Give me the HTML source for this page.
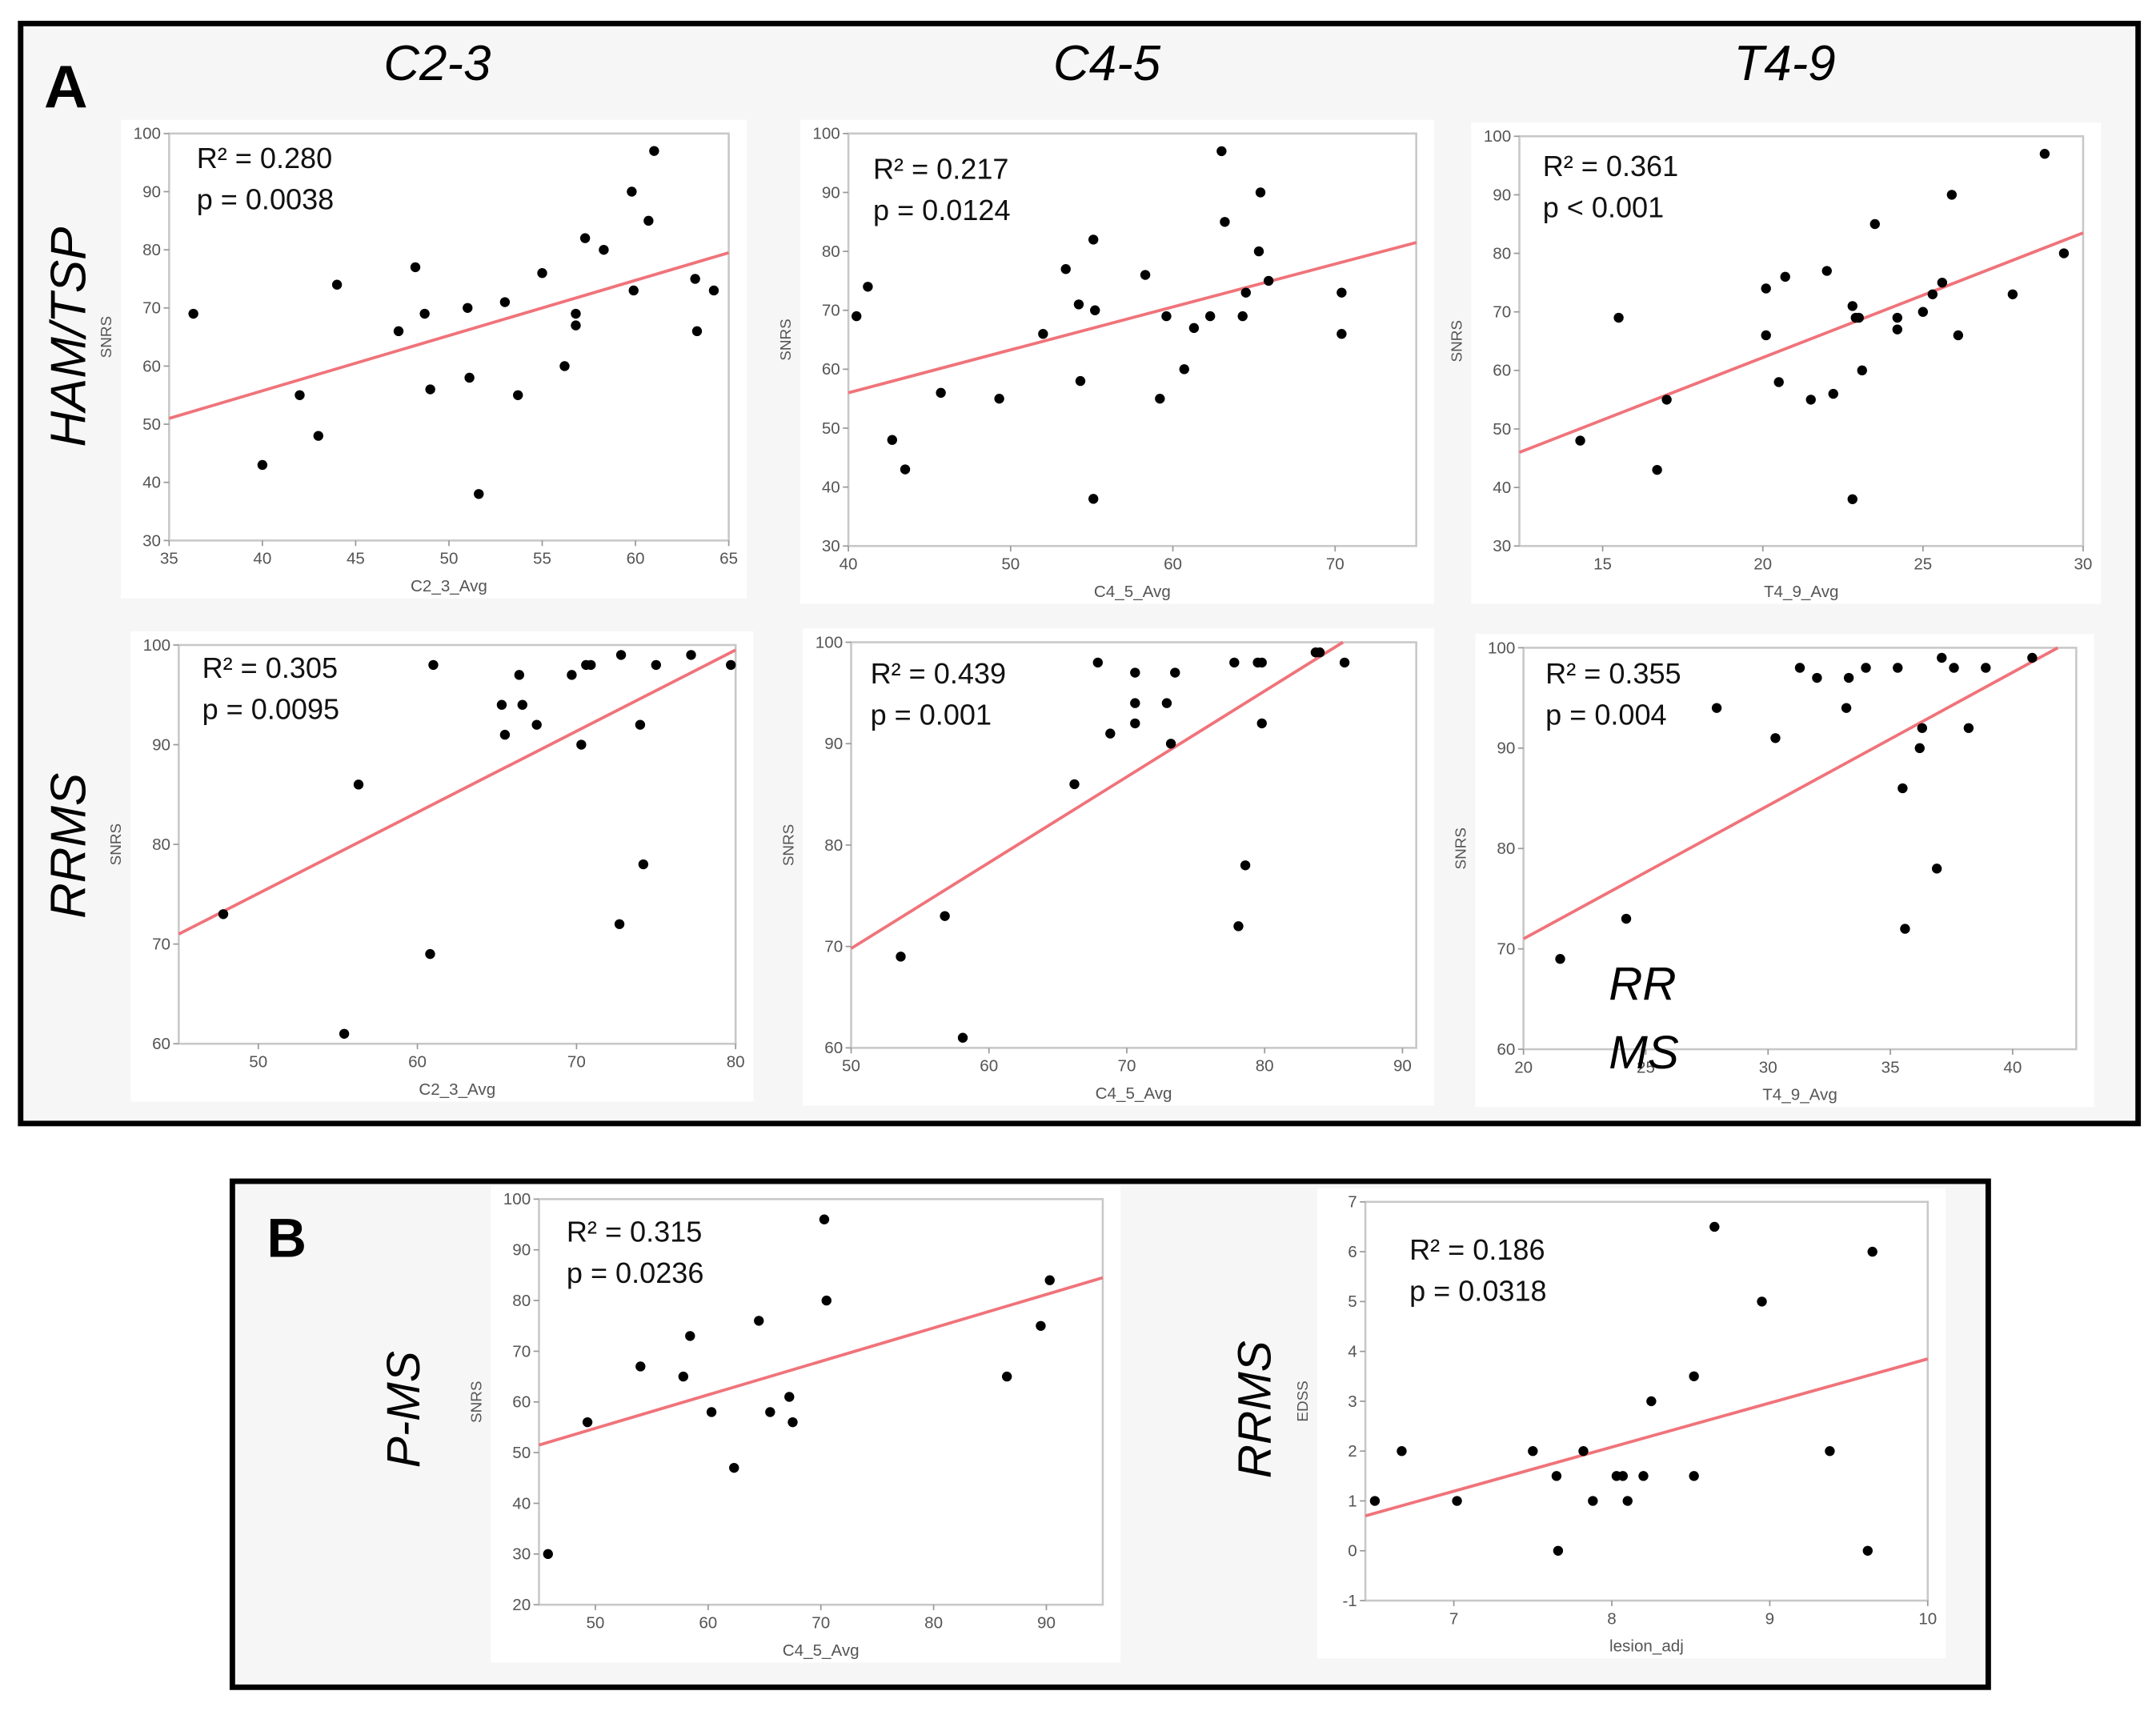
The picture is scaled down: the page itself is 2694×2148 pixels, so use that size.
<!DOCTYPE html>
<html><head><meta charset="utf-8">
<style>
html,body{margin:0;padding:0;background:#fff;}
svg{display:block;}
text{font-family:"Liberation Sans",sans-serif;}
</style></head>
<body>
<svg id="fig" width="2694" height="2148" viewBox="0 0 1568 1250" xmlns="http://www.w3.org/2000/svg">
<rect x="0" y="0" width="1568" height="1250" fill="#fff"/>
<rect x="15" y="17" width="1540" height="800" fill="#f6f6f6" stroke="#000" stroke-width="4"/>
<rect x="169" y="859" width="1277" height="368" fill="#f6f6f6" stroke="#000" stroke-width="4"/>
<text x="32" y="78" font-size="44" font-weight="bold">A</text>
<text x="194" y="914" font-size="40" font-weight="bold">B</text>
<text x="318" y="58" font-size="36" font-style="italic" text-anchor="middle">C2-3</text>
<text x="805" y="58" font-size="36" font-style="italic" text-anchor="middle">C4-5</text>
<text x="1298" y="58" font-size="36" font-style="italic" text-anchor="middle">T4-9</text>
<text transform="translate(62,245) rotate(-90)" font-size="36" font-style="italic" text-anchor="middle">HAM/TSP</text>
<text transform="translate(62,615) rotate(-90)" font-size="36" font-style="italic" text-anchor="middle">RRMS</text>
<text transform="translate(305,1025) rotate(-90)" font-size="34" font-style="italic" text-anchor="middle">P-MS</text>
<text transform="translate(924,1025) rotate(-90)" font-size="34" font-style="italic" text-anchor="middle">RRMS</text>
<g id="plots"></g>
<text x="1170" y="727" font-size="34" font-style="italic">RR</text>
<text x="1170" y="777" font-size="34" font-style="italic">MS</text>
</svg>
<script>
// Panel 1: C2-3 HAM/TSP
const p1x=[36.3,40,42,43,44,47.3,48.2,48.7,49,51,51.1,51.6,53,53.7,55,56.2,56.8,56.8,57.3,58.3,59.8,59.9,60.7,61,63.2,63.3,64.2];
const p1y=[69,43,55,48,74,66,77,69,56,70,58,38,71,55,76,60,67,69,82,80,90,73,85,97,75,66,73];
const p1fit=[51,79.5];
// Panel 2: C4-5 HAM/TSP
const p2x=[40.5,41.2,42.7,43.5,45.7,49.3,52,53.4,54.2,54.3,55.1,55.2,55.1,58.3,59.2,59.6,60.7,61.3,62.3,63,63.2,64.3,64.5,65.3,65.4,65.9,70.4,70.4];
const p2y=[69,74,48,43,56,55,66,77,71,58,82,70,38,76,55,69,60,67,69,97,85,69,73,80,90,75,73,66];
const p2fit=[56,81.5];
// Panel 3: T4-9 HAM/TSP
const p3x=[14.3,15.5,16.7,17,20.1,20.1,20.5,20.7,21.5,22,22.2,22.8,22.8,22.9,23,23.1,23.5,24.2,24.2,25,25.3,25.6,25.9,26.1,27.8,28.8,29.4];
const p3y=[48,69,43,55,74,66,58,76,55,77,56,38,71,69,69,60,85,67,69,70,73,75,90,66,73,97,80];
const p3fit=[46,83.5];
// Panel 4: C2-3 RRMS
const p4x=[47.8,55.4,56.3,60.8,61,65.3,65.5,66.4,66.6,67.5,69.7,70.3,70.6,70.9,72.7,72.8,74,74.2,75,77.2,79.7];
const p4y=[73,61,86,69,98,94,91,97,94,92,97,90,98,98,72,99,92,78,98,99,98];
const p4fit=[71,99.5];
// Panel 5: C4-5 RRMS
const p5x=[53.6,56.8,58.1,66.2,67.9,68.8,70.6,70.6,70.6,72.9,73.2,73.5,77.8,78.1,78.6,79.5,79.8,79.8,83.7,84,85.8];
const p5y=[69,73,61,86,98,91,97,94,92,94,90,97,98,72,78,98,98,92,99,99,98];
const p5fit=[69.8,104.5];
// Panel 6: T4-9 RRMS
const p6x=[21.5,24.2,27.9,30.3,31.3,32,33.2,33.3,34,35.3,35.5,35.6,36.9,36.2,36.3,37.1,37.6,38.2,38.9,40.8];
const p6y=[69,73,94,91,98,97,94,97,98,98,86,72,78,90,92,99,98,92,98,99];
const p6fit=[71,101];
// Panel 7: B P-MS C4-5
const p7x=[45.8,49.3,54,57.8,58.4,60.3,62.3,64.5,65.5,67.2,67.5,70.3,70.5,86.5,89.5,90.3];
const p7y=[30,56,67,65,73,58,47,76,58,61,56,96,80,65,75,84];
const p7fit=[51.5,84.5];
// Panel 8: B RRMS lesion
const p8x=[6.5,6.67,7.02,7.5,7.65,7.66,7.82,7.88,8.03,8.07,8.1,8.2,8.25,8.52,8.52,8.65,8.95,9.38,9.62,9.65];
const p8y=[1,2,1,2,1.5,0,2,1,1.5,1.5,1,1.5,3,3.5,1.5,6.5,5,2,0,6];
const p8fit=[0.7,3.85];

const xt1=["35","40","45","50","55","60","65"],xt2=["40","50","60","70"],xt3=["15","20","25","30"];
const xt4=["50","60","70","80"],xt5=["50","60","70","80","90"],xt6=["20","25","30","35","40"];
const xt7=["50","60","70","80","90"],xt8=["7","8","9","10"];
const ytA=["30","40","50","60","70","80","90","100"],ytR=["60","70","80","90","100"];
const ytP=["20","30","40","50","60","70","80","90","100"],ytE=["-1","0","1","2","3","4","5","6","7"];

const NS="http://www.w3.org/2000/svg";
const root=document.getElementById('plots');
function mk(tag,attrs,parent){const e=document.createElementNS(NS,tag);for(const k in attrs)e.setAttribute(k,attrs[k]);parent.appendChild(e);return e;}

// cfg: plot box, domain
const panels=[
 {id:'c2-3-ham',xs:p1x,ys:p1y,fit:p1fit,px:[123,530],py:[97,393],dx:[35,65],dy:[30,100],xt:xt1,yt:ytA,xl:'C2_3_Avg',yl:'SNRS',r2:'R² = 0.280',pv:'p = 0.0038',tx:143,ty:122},
 {id:'c4-5-ham',xs:p2x,ys:p2y,fit:p2fit,px:[617,1030],py:[97,397],dx:[40,75],dy:[30,100],xt:xt2,yt:ytA,xl:'C4_5_Avg',yl:'SNRS',r2:'R² = 0.217',pv:'p = 0.0124',tx:635,ty:130},
 {id:'t4-9-ham',xs:p3x,ys:p3y,fit:p3fit,px:[1105,1515],py:[99,397],dx:[12.4,30],dy:[30,100],xt:xt3,yt:ytA,xl:'T4_9_Avg',yl:'SNRS',r2:'R² = 0.361',pv:'p < 0.001',tx:1122,ty:128},
 {id:'c2-3-rrms',xs:p4x,ys:p4y,fit:p4fit,px:[130,535],py:[469,759],dx:[45,80],dy:[60,100],xt:xt4,yt:ytR,xl:'C2_3_Avg',yl:'SNRS',r2:'R² = 0.305',pv:'p = 0.0095',tx:147,ty:493},
 {id:'c4-5-rrms',xs:p5x,ys:p5y,fit:p5fit,px:[619,1030],py:[467,762],dx:[50,91],dy:[60,100],xt:xt5,yt:ytR,xl:'C4_5_Avg',yl:'SNRS',r2:'R² = 0.439',pv:'p = 0.001',tx:633,ty:497},
 {id:'t4-9-rrms',xs:p6x,ys:p6y,fit:p6fit,px:[1108,1510],py:[471,763],dx:[20,42.6],dy:[60,100],xt:xt6,yt:ytR,xl:'T4_9_Avg',yl:'SNRS',r2:'R² = 0.355',pv:'p = 0.004',tx:1124,ty:497},
 {id:'p-ms-c4-5',xs:p7x,ys:p7y,fit:p7fit,px:[392,802],py:[872,1167],dx:[45,95],dy:[20,100],xt:xt7,yt:ytP,xl:'C4_5_Avg',yl:'SNRS',r2:'R² = 0.315',pv:'p = 0.0236',tx:412,ty:903},
 {id:'rrms-lesion',xs:p8x,ys:p8y,fit:p8fit,px:[993,1402],py:[874,1164],dx:[6.44,10],dy:[-1,7],xt:xt8,yt:ytE,xl:'lesion_adj',yl:'EDSS',r2:'R² = 0.186',pv:'p = 0.0318',tx:1025,ty:916}
];

panels.forEach(c=>{
  const X=v=>c.px[0]+(v-c.dx[0])/(c.dx[1]-c.dx[0])*(c.px[1]-c.px[0]);
  const Y=v=>c.py[1]-(v-c.dy[0])/(c.dy[1]-c.dy[0])*(c.py[1]-c.py[0]);
  const g=mk('g',{},root);
  
  
  const bg=mk('rect',{x:c.px[0]-35,y:c.py[0]-10,width:c.px[1]-c.px[0]+48,height:c.py[1]-c.py[0]+52,fill:'#fff'},g);
  
  
  const fr=mk('rect',{x:c.px[0],y:c.py[0],width:c.px[1]-c.px[0],height:c.py[1]-c.py[0],fill:'#fff',stroke:'#c8c8c8','stroke-width':1.5},g);
  
  
  c.xt.forEach(t=>{
    const x=X(+t);
    mk('line',{x1:x,x2:x,y1:c.py[1],y2:c.py[1]+4,stroke:'#999'},g);
    const tt=mk('text',{x:x,y:c.py[1]+17,'font-size':12,fill:'#555','text-anchor':'middle'},g);
    tt.textContent=t;
    
    
  });
  c.yt.forEach(t=>{
    const y=Y(+t);
    mk('line',{x1:c.px[0]-4,x2:c.px[0],y1:y,y2:y,stroke:'#999'},g);
    const tt=mk('text',{x:c.px[0]-6,y:y+4,'font-size':12,fill:'#555','text-anchor':'end'},g);
    tt.textContent=t;
    
    
  });
  const xl=mk('text',{x:(c.px[0]+c.px[1])/2,y:c.py[1]+37,'font-size':12,fill:'#555','text-anchor':'middle'},g);
  xl.textContent=c.xl;
  
  
  const yx=c.px[0]-42,yy=(c.py[0]+c.py[1])/2;
  const yl=mk('text',{transform:`translate(${yx},${yy}) rotate(-90)`,'font-size':11,fill:'#555','text-anchor':'middle'},g);
  yl.textContent=c.yl;
  
  
  // fit line, clipped to plot box
  let x0=c.dx[0],y0=c.fit[0],x1=c.dx[1],y1=c.fit[1];
  if(y1>c.dy[1]){x1=x0+(c.dy[1]-y0)/(y1-y0)*(x1-x0);y1=c.dy[1];}
  const ln=mk('line',{x1:X(x0),y1:Y(y0),x2:X(x1),y2:Y(y1),stroke:'#f0737a','stroke-width':2.2},g);
  
  
  c.xs.forEach((v,i)=>{
    const p=mk('circle',{cx:X(v),cy:Y(c.ys[i]),r:3.6,fill:'#000'},g);
    
    
  });
  const a=mk('text',{x:c.tx,y:c.ty,'font-size':21,fill:'#111'},g);
  a.textContent=c.r2;
  
  
  const b=mk('text',{x:c.tx,y:c.ty+30,'font-size':21,fill:'#111'},g);
  b.textContent=c.pv;
  
  
});
</script>
</body></html>
